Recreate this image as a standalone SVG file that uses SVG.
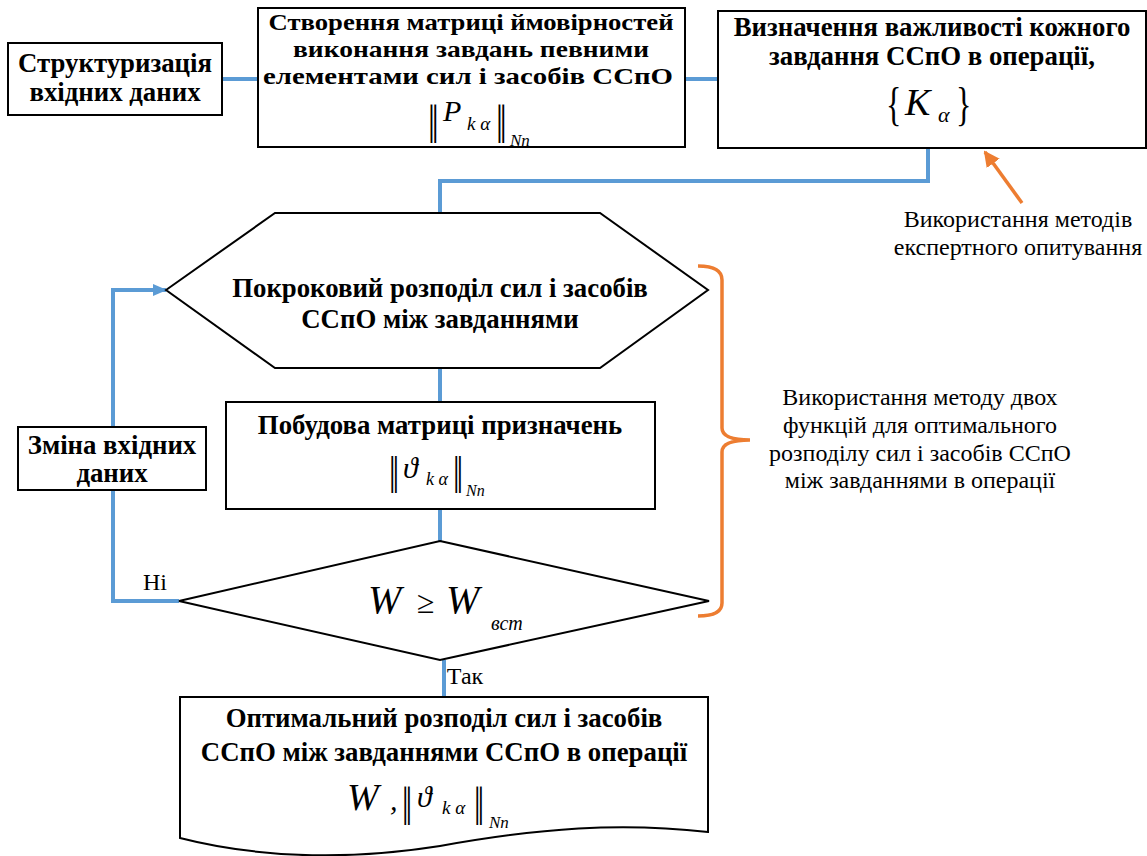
<svg xmlns="http://www.w3.org/2000/svg" width="1147" height="856" viewBox="0 0 1147 856">
<defs>
<style>
text{font-family:'Liberation Serif','Times New Roman',serif;fill:#000}
.box{fill:#fff;stroke:#000;stroke-width:2}
.b{font-weight:bold;font-size:26.8px;text-anchor:middle}
.b2{font-weight:bold;font-size:24px;text-anchor:middle}
.r{font-size:24px;text-anchor:middle}
.m{font-style:italic}
.blue{fill:none;stroke:#5B9BD5;stroke-width:4}
.orange{fill:none;stroke:#ED7D31;stroke-width:3.5}
</style>
<marker id="ab" markerWidth="14" markerHeight="12" refX="13" refY="6" orient="auto" markerUnits="userSpaceOnUse" viewBox="0 0 14 12"><path d="M0,0 L14,6 L0,12 Z" fill="#5B9BD5"/></marker>
<marker id="ao" markerWidth="16" markerHeight="16" refX="14" refY="8" orient="auto" markerUnits="userSpaceOnUse" viewBox="0 0 16 16"><path d="M0,0 L16,8 L0,16 Z" fill="#ED7D31"/></marker>
</defs>

<g id="connectors">
<line class="blue" x1="222" y1="79" x2="258" y2="79"/>
<line class="blue" x1="685" y1="79" x2="718" y2="79"/>
<polyline class="blue" points="928,148 928,181 440,181 440,213"/>
<line class="blue" x1="440" y1="368" x2="440" y2="402"/>
<line class="blue" x1="440" y1="509" x2="440" y2="541"/>
<polyline class="blue" points="179,601 113,601 113,290 166,290" marker-end="url(#ab)"/>
<line class="blue" x1="444" y1="660" x2="444" y2="697"/>
<line class="orange" x1="1022" y1="203" x2="985" y2="152" marker-end="url(#ao)"/>
<path class="orange" d="M698,266 Q722,266 722,280 L722,428 Q722,440 750,440 Q722,440 722,452 L722,603 Q722,616 698,616"/>
</g>

<g id="n1">
<rect class="box" x="8" y="43" width="214" height="72"/>
<text class="b" x="115" y="72">Структуризація</text>
<text class="b" x="115" y="101">вхідних даних</text>
</g>

<g id="n2">
<rect class="box" x="258" y="8" width="427" height="139"/>
<text class="b2" x="471" y="30" textLength="405" lengthAdjust="spacingAndGlyphs">Створення матриці ймовірностей</text>
<text class="b2" x="471" y="57" textLength="356" lengthAdjust="spacingAndGlyphs">виконання завдань певними</text>
<text class="b2" x="468" y="84" textLength="410" lengthAdjust="spacingAndGlyphs">елементами сил і засобів ССпО</text>
<text x="428" y="143" font-size="38" transform="translate(428 143) scale(1 1.45) translate(-428 -143)">‖</text>
<text class="m" x="443" y="121" font-size="30">P</text>
<text class="m" x="467" y="130" font-size="19">k α</text>
<text x="496" y="143" font-size="38" transform="translate(496 143) scale(1 1.45) translate(-496 -143)">‖</text>
<text class="m" x="510" y="146" font-size="17">Nn</text>
</g>

<g id="n3">
<rect class="box" x="718" y="11" width="428" height="137"/>
<text class="b" x="932" y="36">Визначення важливості кожного</text>
<text class="b" x="932" y="65">завдання ССпО в операції,</text>
<text x="886" y="120" font-size="40" transform="translate(886 120) scale(0.8 1.15) translate(-886 -120)">{</text>
<text class="m" x="905" y="115" font-size="38">K</text>
<text class="m" x="938" y="122" font-size="22">α</text>
<text x="956" y="120" font-size="40" transform="translate(956 120) scale(0.8 1.15) translate(-956 -120)">}</text>
</g>

<g id="n4">
<polygon class="box" points="166,290 275,213 600,213 708,290 600,368 275,368"/>
<text class="b" x="440" y="297">Покроковий розподіл сил і засобів</text>
<text class="b" x="440" y="328">ССпО між завданнями</text>
</g>

<g id="n5">
<rect class="box" x="226" y="402" width="429" height="107"/>
<text class="b" x="440" y="434">Побудова матриці призначень</text>
<text x="389" y="493" font-size="36" transform="translate(389 493) scale(1 1.45) translate(-389 -493)">‖</text>
<text class="m" x="403" y="478" font-size="30">ϑ</text>
<text class="m" x="426" y="485" font-size="18">k α</text>
<text x="453" y="493" font-size="36" transform="translate(453 493) scale(1 1.45) translate(-453 -493)">‖</text>
<text class="m" x="466" y="496" font-size="16">Nn</text>
</g>

<g id="n6">
<rect class="box" x="18" y="427" width="188" height="63"/>
<text class="b" x="112" y="454">Зміна вхідних</text>
<text class="b" x="112" y="482">даних</text>
</g>

<g id="n7">
<polygon class="box" points="440,541 709,601 440,660 179,601"/>
<text class="m" x="368" y="613" font-size="40">W</text>
<text x="417" y="613" font-size="32">≥</text>
<text class="m" x="446" y="613" font-size="40">W</text>
<text class="m" x="491" y="630" font-size="20">вст</text>
</g>

<g id="n8">
<path class="box" d="M180,697 H708 V832 C620,822 540,828 440,846 C340,862 250,856 180,838 Z"/>
<text class="b" x="444" y="727">Оптимальний розподіл сил і засобів</text>
<text class="b" x="444" y="761">ССпО між завданнями ССпО в операції</text>
<text class="m" x="347" y="810" font-size="38">W</text>
<text class="m" x="390" y="810" font-size="30">,</text>
<text x="402" y="825" font-size="36" transform="translate(402 825) scale(1 1.5) translate(-402 -825)">‖</text>
<text class="m" x="417" y="807" font-size="30">ϑ</text>
<text class="m" x="442" y="814" font-size="19">k α</text>
<text x="474" y="825" font-size="36" transform="translate(474 825) scale(1 1.5) translate(-474 -825)">‖</text>
<text class="m" x="489" y="828" font-size="17">Nn</text>
</g>

<g id="labels">
<text class="r" x="155" y="590" font-size="22">Ні</text>
<text class="r" x="465" y="684" font-size="22">Так</text>
<text class="r" x="1018" y="227">Використання методів</text>
<text class="r" x="1018" y="255">експертного опитування</text>
<text class="r" x="920" y="405">Використання методу двох</text>
<text class="r" x="920" y="433">функцій для оптимального</text>
<text class="r" x="920" y="461">розподілу сил і засобів ССпО</text>
<text class="r" x="920" y="488">між завданнями в операції</text>
</g>
</svg>
